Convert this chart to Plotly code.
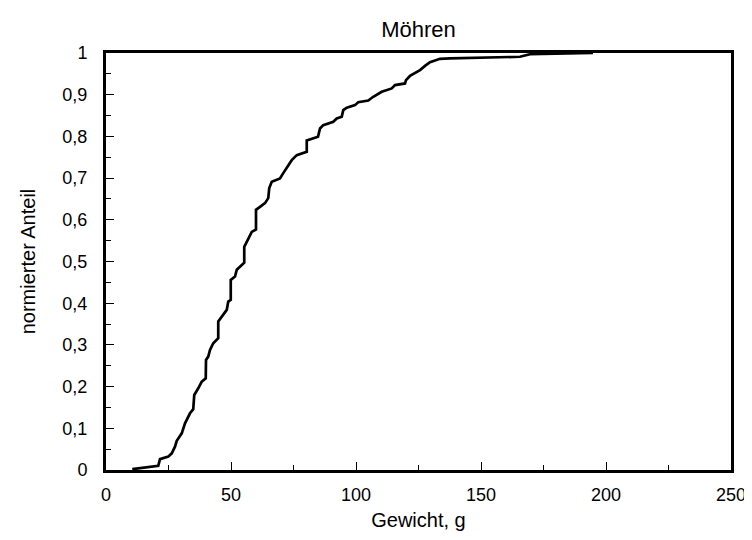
import plotly.graph_objects as go

# --- Curve (weight in g, normalised share) ---
gewicht = [10.5, 20.9, 21.6, 24.9, 26.3, 27.6, 28.3, 30.3, 31.6, 33.6, 34.9, 35.3,
           36.9, 38.3, 39.9, 40.0, 40.9, 41.6, 42.9, 44.9, 44.9, 46.3, 48.3, 48.9,
           49.9, 49.9, 51.6, 52.3, 54.3, 55.3, 55.3, 56.3, 57.6, 58.3, 60.0, 60.0,
           61.6, 63.6, 64.9, 65.3, 66.3, 69.6, 70.9, 72.9, 74.3, 76.3, 80.3, 80.3,
           84.8, 85.6, 86.9, 90.9, 92.3, 94.3, 94.9, 96.3, 99.6, 100.9, 104.9, 106.9,
           110.3, 114.3, 115.6, 119.6, 120.0, 121.6, 125.6, 127.6, 129.6, 133.6,
           137.6, 165.6, 169.6, 194.8]
anteil = [0.002, 0.010, 0.026, 0.032, 0.040, 0.056, 0.070, 0.088, 0.112, 0.136, 0.146, 0.180,
          0.196, 0.212, 0.220, 0.264, 0.272, 0.288, 0.304, 0.316, 0.356, 0.368, 0.384, 0.404,
          0.408, 0.456, 0.464, 0.480, 0.492, 0.497, 0.535, 0.547, 0.559, 0.571, 0.577, 0.624,
          0.631, 0.640, 0.652, 0.676, 0.691, 0.699, 0.712, 0.731, 0.743, 0.755, 0.763, 0.790,
          0.799, 0.819, 0.827, 0.835, 0.843, 0.847, 0.863, 0.869, 0.875, 0.882, 0.886, 0.895,
          0.907, 0.915, 0.923, 0.927, 0.935, 0.945, 0.959, 0.969, 0.978, 0.986,
          0.987, 0.991, 0.997, 1.0]

font = "Liberation Sans, Arial, sans-serif"

fig = go.Figure()

fig.add_trace(go.Scatter(
    x=gewicht, y=anteil,
    mode='lines',
    line=dict(color='black', width=2.7),
    showlegend=False
))

axis_style = dict(
    showline=True, linecolor='black', linewidth=3, mirror=True,
    ticks='inside', ticklen=8, tickwidth=1, tickcolor='black',
    showgrid=False, zeroline=False, automargin=False,
    tickfont=dict(family=font, size=18, color='black'),
)

fig.update_xaxes(
    range=[0, 250], tickmode='linear', tick0=0, dtick=50,
    minor=dict(ticks='inside', ticklen=5, dtick=25, tickcolor='black'),
    ticklabelstandoff=6,
    title=dict(text="Gewicht, g", font=dict(family=font, size=20, color='black'), standoff=10),
    **axis_style
)
fig.update_yaxes(
    range=[0, 1], tickmode='linear', tick0=0, dtick=0.1,
    minor=dict(ticks='inside', ticklen=5, dtick=0.05, tickcolor='black'),
    ticklabelstandoff=12,
    title=dict(text="normierter Anteil", font=dict(family=font, size=20, color='black'), standoff=22),
    **axis_style
)

# Layout (page body adds an 8px offset, margins compensate for it)
fig.update_layout(
    title=dict(text="Möhren", x=0.5, xref='paper', y=0.96, yanchor='middle',
               font=dict(family=font, size=22, color='black')),
    separators=",.",
    width=752, height=540,
    margin=dict(l=98, r=29, t=45, b=78, autoexpand=False),
    plot_bgcolor='white', paper_bgcolor='white',
)

fig.write_html("out.html")
